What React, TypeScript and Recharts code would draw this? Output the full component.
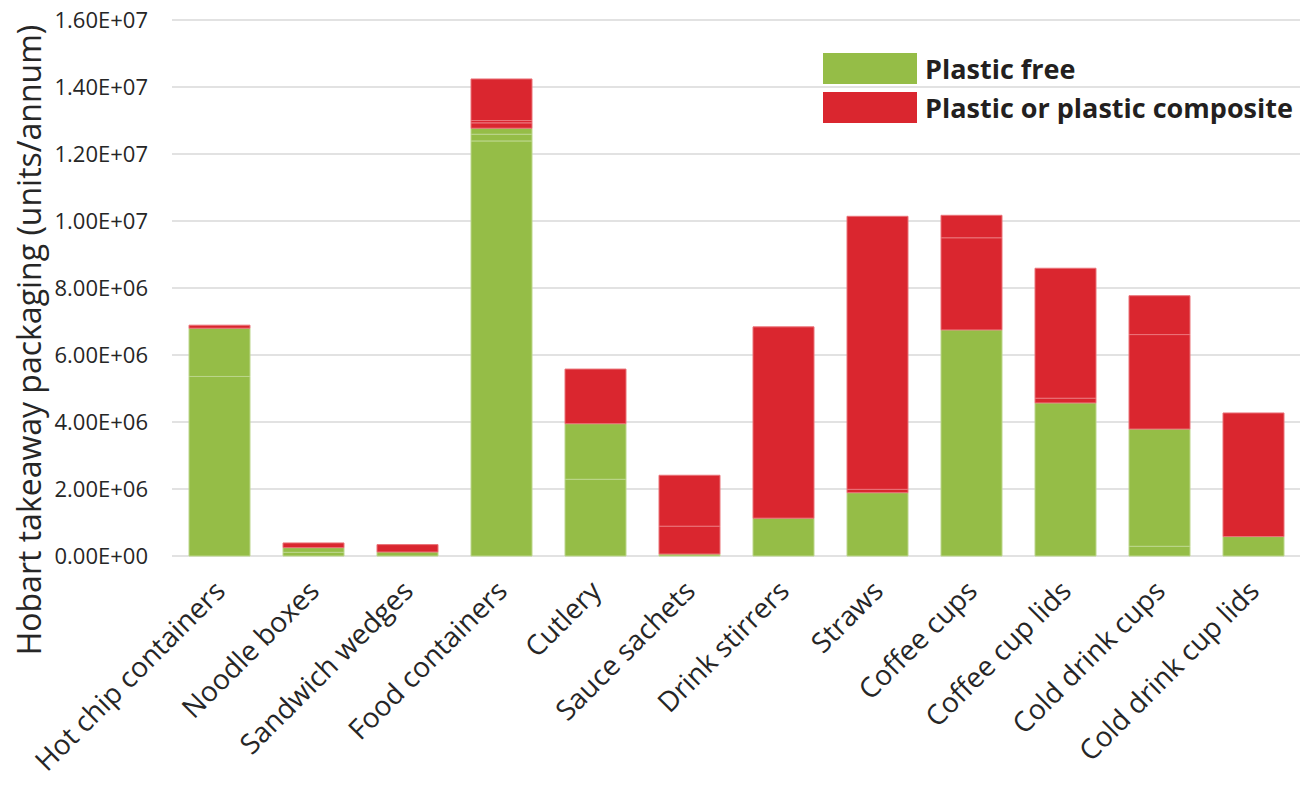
import React from 'react';
import { BarChart, Bar, XAxis, YAxis, CartesianGrid } from 'recharts';

// Values are in millions of units per year; each category can have several
// stacked sub-items of the same kind, drawn with a faint divider between them.
const categories = [
  'Hot chip containers',
  'Noodle boxes',
  'Sandwich wedges',
  'Food containers',
  'Cutlery',
  'Sauce sachets',
  'Drink stirrers',
  'Straws',
  'Coffee cups',
  'Coffee cup lids',
  'Cold drink cups',
  'Cold drink cup lids',
];

const plasticFreeA = [5.36, 0.11, 0.12, 12.39, 2.29, 0.06, 1.13, 1.89, 6.75, 4.57, 0.29, 0.58];
const plasticFreeB = [1.44, 0.14, 0, 0.2, 1.66, 0, 0, 0, 0, 0, 3.5, 0];
const plasticFreeC = [0, 0, 0, 0.18, 0, 0, 0, 0, 0, 0, 0, 0];

const plasticA = [0.09, 0.14, 0.22, 0.16, 1.63, 0.83, 5.71, 0.1, 2.75, 0.14, 2.82, 3.69];
const plasticB = [0, 0, 0, 0.07, 0, 1.52, 0, 8.15, 0.67, 3.88, 1.16, 0];
const plasticC = [0, 0, 0, 1.24, 0, 0, 0, 0, 0, 0, 0, 0];

const yTicks = [0, 2e6, 4e6, 6e6, 8e6, 1e7, 1.2e7, 1.4e7, 1.6e7];

const UNIT = 1e6;
const GREEN = '#95BD47';
const RED = '#DA262F';
const FONT = '"Open Sans", sans-serif';

const rows = categories.map((name, i) => ({
  name,
  pfA: plasticFreeA[i] * UNIT,
  pfB: plasticFreeB[i] * UNIT,
  pfC: plasticFreeC[i] * UNIT,
  plA: plasticA[i] * UNIT,
  plB: plasticB[i] * UNIT,
  plC: plasticC[i] * UNIT,
}));

// Excel-style scientific notation: 1.60E+07
const sci = (v: number) => {
  const [m, e] = v.toExponential(2).split('e');
  const n = parseInt(e, 10);
  const sign = n < 0 ? '-' : '+';
  return `${m}E${sign}${String(Math.abs(n)).padStart(2, '0')}`;
};

const CategoryTick = (props: any) => {
  const { x, y, payload } = props;
  return (
    <g transform={`translate(${x - 6},${y + 15})`}>
      <text
        transform="rotate(-45)"
        textAnchor="end"
        dy="0.7em"
        fontSize={28}
        fontFamily={FONT}
        fill="#262626"
      >
        {payload.value}
      </text>
    </g>
  );
};

const legendItems = [
  { label: 'Plastic free', color: GREEN },
  { label: 'Plastic or plastic composite', color: RED },
];

export default function App() {
  return (
    <div style={{ position: 'absolute', left: 0, top: 0, width: 1309, height: 785, background: '#fff' }}>
      <BarChart
        width={1309}
        height={785}
        data={rows}
        margin={{ top: 20, right: 9, left: 50, bottom: 0 }}
        barSize={61}
      >
        <CartesianGrid vertical={false} stroke="#d9d9d9" strokeWidth={1.5} />
        <XAxis
          dataKey="name"
          height={229}
          axisLine={false}
          tickLine={false}
          interval={0}
          tick={<CategoryTick />}
        />
        <YAxis
          width={122}
          domain={[0, 1.6e7]}
          ticks={yTicks}
          tickFormatter={sci}
          axisLine={false}
          tickLine={false}
          tickSize={0}
          tickMargin={24}
          tick={{ fontSize: 22, fontFamily: FONT, fill: '#262626' }}
          label={{
            content: () => (
              <text
                x={28}
                y={340}
                transform="rotate(-90 28 340)"
                textAnchor="middle"
                dominantBaseline="central"
                fontSize={32}
                fontFamily={FONT}
                fill="#262626"
              >
                Hobart takeaway packaging (units/annum)
              </text>
            ),
          }}
        />
        <Bar dataKey="pfA" stackId="s" fill={GREEN} stroke="#bcd68c" strokeWidth={1} isAnimationActive={false} />
        <Bar dataKey="pfB" stackId="s" fill={GREEN} stroke="#bcd68c" strokeWidth={1} isAnimationActive={false} />
        <Bar dataKey="pfC" stackId="s" fill={GREEN} stroke="#bcd68c" strokeWidth={1} isAnimationActive={false} />
        <Bar dataKey="plA" stackId="s" fill={RED} stroke="#ea7379" strokeWidth={1} isAnimationActive={false} />
        <Bar dataKey="plB" stackId="s" fill={RED} stroke="#ea7379" strokeWidth={1} isAnimationActive={false} />
        <Bar dataKey="plC" stackId="s" fill={RED} stroke="#ea7379" strokeWidth={1} isAnimationActive={false} />
      </BarChart>
      <div style={{ position: 'absolute', left: 823, top: 53, fontFamily: FONT }}>
        {legendItems.map((item) => (
          <div key={item.label} style={{ display: 'flex', alignItems: 'center', height: 31, marginBottom: 8 }}>
            <div style={{ width: 94, height: 31, background: item.color }} />
            <span style={{ marginLeft: 8, fontSize: 27, fontWeight: 700, color: '#231f20', whiteSpace: 'nowrap' }}>
              {item.label}
            </span>
          </div>
        ))}
      </div>
    </div>
  );
}
